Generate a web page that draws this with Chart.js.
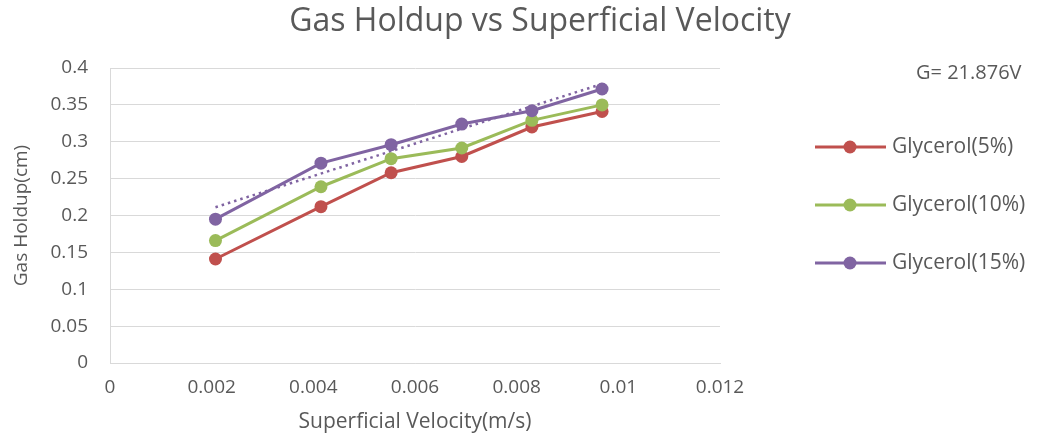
<!DOCTYPE html>
<html>
<head>
<meta charset="utf-8">
<script src="https://cdn.jsdelivr.net/npm/chart.js@4"></script>
<style>
  html, body { margin: 0; padding: 0; background: #ffffff; }
  #wrap { width: 1039px; height: 439px; position: relative; }
</style>
</head>
<body>
<div id="wrap"><canvas id="c" width="1039" height="439"></canvas></div>
<script>
// ---- data ----
const chartTitle = 'Gas Holdup vs Superficial Velocity';
const xAxisTitle = 'Superficial Velocity(m/s)';
const yAxisTitle = 'Gas Holdup(cm)';
const noteText = 'G= 21.876V';
const velocity = [0.002075, 0.00415, 0.00553, 0.00692, 0.0083, 0.00968];
const glycerol5 = [0.141, 0.212, 0.258, 0.280, 0.320, 0.341];
const glycerol10 = [0.166, 0.239, 0.277, 0.2915, 0.329, 0.350];
const glycerol15 = [0.195, 0.271, 0.296, 0.324, 0.342, 0.3715];
const seriesNames = ['Glycerol(5%)', 'Glycerol(10%)', 'Glycerol(15%)'];
const seriesColors = ['#C0504D', '#9BBB59', '#8064A2'];
const xTickValues = [0, 0.002, 0.004, 0.006, 0.008, 0.01, 0.012];
const xTickLabels = ['0', '0.002', '0.004', '0.006', '0.008', '0.01', '0.012'];
const yTickValues = [0, 0.05, 0.1, 0.15, 0.2, 0.25, 0.3, 0.35, 0.4];
const yTickLabels = ['0', '0.05', '0.1', '0.15', '0.2', '0.25', '0.3', '0.35', '0.4'];

// linear trendline (least squares) of the 15% series, as in the spreadsheet
function linearFit(xs, ys) {
  const n = xs.length;
  const mx = xs.reduce((a, b) => a + b, 0) / n;
  const my = ys.reduce((a, b) => a + b, 0) / n;
  let sxy = 0, sxx = 0;
  for (let i = 0; i < n; i++) { sxy += (xs[i] - mx) * (ys[i] - my); sxx += (xs[i] - mx) ** 2; }
  const m = sxy / sxx;
  return x => my + m * (x - mx);
}
const fit15 = linearFit(velocity, glycerol15);
const trendX = [velocity[0], velocity[velocity.length - 1]];

const TEXT = '#595959';
const FONT = "'Open Sans', sans-serif";

function pts(ys) { return velocity.map((x, i) => ({ x: x, y: ys[i] })); }

const datasets = [glycerol5, glycerol10, glycerol15].map((ys, i) => ({
  label: seriesNames[i],
  data: pts(ys),
  borderColor: seriesColors[i],
  backgroundColor: seriesColors[i],
  borderWidth: 3,
  pointRadius: 6.5,
  pointHoverRadius: 6.5,
  pointBorderWidth: 0,
  tension: 0,
  order: 2 - i
}));
datasets.push({
  label: 'trend',
  data: trendX.map(x => ({ x: x, y: fit15(x) })),
  borderColor: seriesColors[2],
  borderWidth: 2.5,
  borderDash: [2.5, 4],
  pointRadius: 0,
  order: 5
});

const overlay = {
  id: 'overlay',
  afterDraw(chart) {
    const ctx = chart.ctx;
    ctx.save();
    ctx.fillStyle = TEXT;
    ctx.textBaseline = 'middle';
    ctx.textAlign = 'center';
    ctx.font = "32px " + FONT;
    ctx.fillText(chartTitle, 540, 22);
    ctx.textAlign = 'left';
    ctx.font = "20px " + FONT;
    ctx.fillText(noteText, 916, 73);
    const ys = [147, 205, 263];
    ctx.font = "21px " + FONT;
    for (let i = 0; i < 3; i++) {
      ctx.strokeStyle = seriesColors[i];
      ctx.lineWidth = 3;
      ctx.beginPath();
      ctx.moveTo(815, ys[i]);
      ctx.lineTo(886, ys[i]);
      ctx.stroke();
      ctx.fillStyle = seriesColors[i];
      ctx.beginPath();
      ctx.arc(850, ys[i], 6.5, 0, Math.PI * 2);
      ctx.fill();
      ctx.fillStyle = TEXT;
      ctx.fillText(seriesNames[i], 892, ys[i]);
    }
    ctx.restore();
  }
};

new Chart(document.getElementById('c'), {
  type: 'line',
  data: { datasets: datasets },
  plugins: [overlay],
  options: {
    responsive: false,
    animation: false,
    layout: { padding: { top: 68, right: 319, bottom: 0, left: 0 } },
    plugins: { legend: { display: false }, title: { display: false }, tooltip: { enabled: false } },
    scales: {
      x: {
        type: 'linear',
        min: 0, max: 0.012,
        afterFit(s) { s.height = 76; },
        afterBuildTicks(s) { s.ticks = xTickValues.map(v => ({ value: v })); },
        ticks: {
          color: TEXT, padding: 13, maxRotation: 0, autoSkip: false,
          font: { family: FONT, size: 19 },
          callback: (v, i) => xTickLabels[i]
        },
        grid: { color: 'rgba(0,0,0,0)', drawTicks: false },
        border: { display: true, color: '#d9d9d9', width: 1 },
        title: { display: true, text: xAxisTitle, color: TEXT, font: { family: FONT, size: 21 }, padding: { top: 0, bottom: 4 } }
      },
      y: {
        type: 'linear',
        min: 0, max: 0.4,
        afterFit(s) { s.width = 110; },
        afterBuildTicks(s) { s.ticks = yTickValues.map(v => ({ value: v })); },
        ticks: {
          color: TEXT, padding: 22, autoSkip: false,
          font: { family: FONT, size: 19 },
          callback: (v, i) => yTickLabels[i]
        },
        grid: { color: '#d9d9d9', drawTicks: false, lineWidth: 1 },
        border: { display: true, color: '#d9d9d9', width: 1 },
        title: { display: true, text: yAxisTitle, color: TEXT, font: { family: FONT, size: 19 }, padding: { top: 10, bottom: 0 } }
      }
    }
  }
});
</script>
</body>
</html>
